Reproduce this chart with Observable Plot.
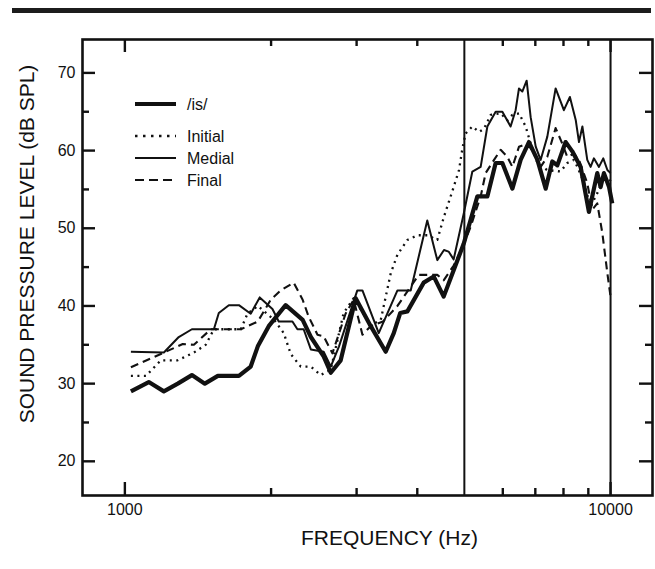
<!DOCTYPE html>
<html>
<head>
<meta charset="utf-8">
<script src="https://cdn.jsdelivr.net/npm/d3@7"></script>
<script src="https://cdn.jsdelivr.net/npm/@observablehq/plot@0.6"></script>
<style>
  html, body { margin: 0; padding: 0; background: #fff; }
  #wrap { position: relative; width: 655px; height: 569px; }
  #bar { position: absolute; left: 12px; top: 8px; width: 639px; height: 5px; background: #1c1c1c; }
  svg { display: block; }
</style>
</head>
<body>
<div id="wrap"><div id="bar"></div></div>
<script>
// ---- data (frequency in Hz, level in dB SPL) ----
const isFreq = [1029,1120,1203,1285,1374,1461,1554,1717,1816,1878,1978,2143,2323,2415,2566,2654,2782,2987,3208,3444,3578,3690,3817,4124,4324,4533,4753,4984,5151,5318,5576,5800,5987,6279,6529,6792,7070,7352,7586,7770,8080,8341,8677,9025,9389,9540,9690,9930,10080];
const isDb   = [29,30.2,29,30,31.1,30,31,31,32.2,34.8,37.4,40.1,38.2,36,33.5,31.4,33,41,37.4,34.1,36.5,39.1,39.3,43,43.8,41.2,44.6,48,51.1,54.1,54.1,58.4,58.4,55.1,58.8,61.1,58.8,55.1,58.6,58.1,61.1,59.9,57.9,52.1,57.1,55.3,57.1,55.3,53.2];

const iniFreq = [1029,1105,1186,1284,1387,1467,1525,1733,1788,1878,2030,2124,2196,2302,2415,2531,2654,2821,2959,3208,3364,3527,3641,3817,4003,4194,4398,4540,4753,4875,4955,5030,5193,5359,5488,5666,5939,6130,6279,6478,6686,6847,7070,7400,7890,8145,8405,8545,8800,9097,9389,9690,9930,10050];
const iniDb   = [31,31,33,33,34,35,37,37,39,40,38.2,36.5,33.8,32.2,32.2,31.1,31.8,39.1,41,37.5,38.2,44.2,46.6,48.5,49.1,49.1,48.5,51.5,55.3,57.5,60.3,62.2,63.1,62.4,62.8,64.6,64.8,63.9,64.6,64.8,63.1,60.9,58.4,57.5,57.3,58.4,58.8,57.9,56,52.8,54.5,56.6,56.6,55.5];

const medFreq = [1029,1203,1291,1374,1525,1561,1637,1717,1816,1895,2013,2074,2213,2266,2334,2415,2566,2654,2760,3010,3084,3332,3641,3877,4194,4398,4540,4640,4753,4990,5193,5402,5576,5800,5987,6226,6376,6478,6581,6718,6847,7013,7178,7410,7707,8015,8247,8480,8610,8750,8955,9097,9240,9465,9660,9850,10000];
const medDb   = [34.1,34,36,37,37,39.1,40.1,40.1,39,41.1,39.6,38,38,37,37,34.4,34.1,32.2,34.8,42,42,36.5,42,42,51,45.9,47.2,47,46,52,57.3,57.9,63.1,65,65,63.1,65.2,68,67.6,69,64.3,60.5,58.8,61.8,68,65.2,66.9,63.9,61.1,63.1,58.8,57.9,59,57.9,59,57.5,57.1];

const finFreq = [1029,1203,1316,1387,1503,1733,1878,1997,2093,2226,2323,2391,2492,2566,2675,2847,2959,3084,3208,3400,3641,4027,4398,4533,4753,4984,5151,5402,5531,5756,5939,6130,6279,6478,6740,7000,7178,7410,7707,7953,8145,8405,8610,8955,9170,9389,9617,9850,10000];
const finDb   = [32.1,34,35.1,35,37,37,38,40.8,42,43,40.8,38.6,36.3,36.1,33.9,39,40.8,36.3,37.4,38,40,44,44,43.3,45.2,47.9,50.2,54.1,57.1,58.8,60.1,59.2,57.9,60.5,60.9,59.5,57.9,59.2,62.9,60.9,59.2,59.6,58.8,55.8,52.4,53.2,49.4,44.2,41.2];

const seriesNames = ["/is/", "Initial", "Medial", "Final"];
const xMajor = [1000, 10000];
const xMinor = [2000, 3000, 4000, 6000, 7000, 8000, 9000];
const yMajor = [20, 30, 40, 50, 60, 70];
const yMinor = [25, 35, 45, 55, 65];
const refLines = [5000, 10000];
const xTitle = "FREQUENCY (Hz)";
const yTitle = "SOUND PRESSURE LEVEL (dB SPL)";

// ---- build tables ----
const zip = (fs, ds) => fs.map((f, i) => ({f, db: ds[i]}));
const isData = zip(isFreq, isDb);
const iniData = zip(iniFreq, iniDb);
const medData = zip(medFreq, medDb);
const finData = zip(finFreq, finDb);

const W = 655, H = 569, mL = 82, mR = 3, mT = 39, mB = 74;
const innerW = W - mL - mR, innerH = H - mT - mB;
const ink = "#111";
const styles = {
  "/is/":    {strokeWidth: 4.2, dash: null},
  "Initial": {strokeWidth: 2.3, dash: "2,4.5"},
  "Medial":  {strokeWidth: 2,   dash: null},
  "Final":   {strokeWidth: 2.1, dash: "8,5"}
};
const lineMark = (data, name) => Plot.line(data, {
  x: "f", y: "db", stroke: ink,
  strokeWidth: styles[name].strokeWidth,
  strokeDasharray: styles[name].dash,
  strokeLinecap: "butt", strokeLinejoin: "round"
});

const tickW = 2.4;
const chart = Plot.plot({
  width: W, height: H,
  marginLeft: mL, marginRight: mR, marginTop: mT, marginBottom: mB,
  style: {fontFamily: "'Liberation Sans', Arial, sans-serif", fontSize: "16px", color: ink, background: "transparent", overflow: "visible"},
  x: {type: "log", domain: [818, 12200]},
  y: {domain: [15.6, 74.3]},
  marks: [
    Plot.axisX({ticks: xMajor, tickSize: 0, tickPadding: 8, tickFormat: d => String(d), label: null, fontSize: 16}),
    Plot.axisY({ticks: yMajor, tickSize: 0, tickPadding: 7, tickFormat: d => String(d), label: null, fontSize: 16}),
    // inward ticks on all four sides
    Plot.tickX(xMajor, {x: d => d, insetTop: innerH - 13, stroke: ink, strokeWidth: tickW}),
    Plot.tickX(xMajor, {x: d => d, insetBottom: innerH - 13, stroke: ink, strokeWidth: tickW}),
    Plot.tickX(xMinor, {x: d => d, insetTop: innerH - 7, stroke: ink, strokeWidth: tickW}),
    Plot.tickX(xMinor, {x: d => d, insetBottom: innerH - 7, stroke: ink, strokeWidth: tickW}),
    Plot.tickY(yMajor, {y: d => d, insetRight: innerW - 13, stroke: ink, strokeWidth: tickW}),
    Plot.tickY(yMajor, {y: d => d, insetLeft: innerW - 13, stroke: ink, strokeWidth: tickW}),
    Plot.tickY(yMinor, {y: d => d, insetRight: innerW - 7, stroke: ink, strokeWidth: tickW}),
    Plot.tickY(yMinor, {y: d => d, insetLeft: innerW - 7, stroke: ink, strokeWidth: tickW}),
    Plot.ruleX(refLines, {x: d => d, stroke: ink, strokeWidth: 2}),
    lineMark(iniData, "Initial"),
    lineMark(finData, "Final"),
    lineMark(medData, "Medial"),
    lineMark(isData, "/is/"),
    Plot.frame({stroke: ink, strokeWidth: 2.6}),
    Plot.text([xTitle], {text: d => d, frameAnchor: "bottom", textAnchor: "middle", dx: 22, dy: 43, lineAnchor: "middle", fontSize: 21}),
    Plot.text([yTitle], {text: d => d, frameAnchor: "left", textAnchor: "middle", rotate: -90, dx: -55, dy: -23.5, lineAnchor: "middle", fontSize: 21})
  ]
});

// ---- legend ----
const svg = d3.select(chart);
const lg = svg.append("g")
  .attr("font-family", "'Liberation Sans', Arial, sans-serif")
  .attr("font-size", 16).attr("fill", ink).attr("text-anchor", "start");
const legendY = [104, 136, 158, 180];
seriesNames.forEach((name, i) => {
  const s = styles[name];
  lg.append("line").attr("x1", 135).attr("x2", 176).attr("y1", legendY[i]).attr("y2", legendY[i])
    .attr("stroke", ink).attr("stroke-width", s.strokeWidth)
    .attr("stroke-dasharray", s.dash === "2,4.5" ? "2.5,5.5" : (s.dash === "8,5" ? "9,5" : null));
  lg.append("text").attr("x", 187).attr("y", legendY[i]).attr("dy", "0.35em")
    .attr("text-anchor", "start").text(name);
});

document.getElementById("wrap").appendChild(chart);
chart.style.position = "absolute";
chart.style.left = "0px";
chart.style.top = "0px";
</script>
</body>
</html>
